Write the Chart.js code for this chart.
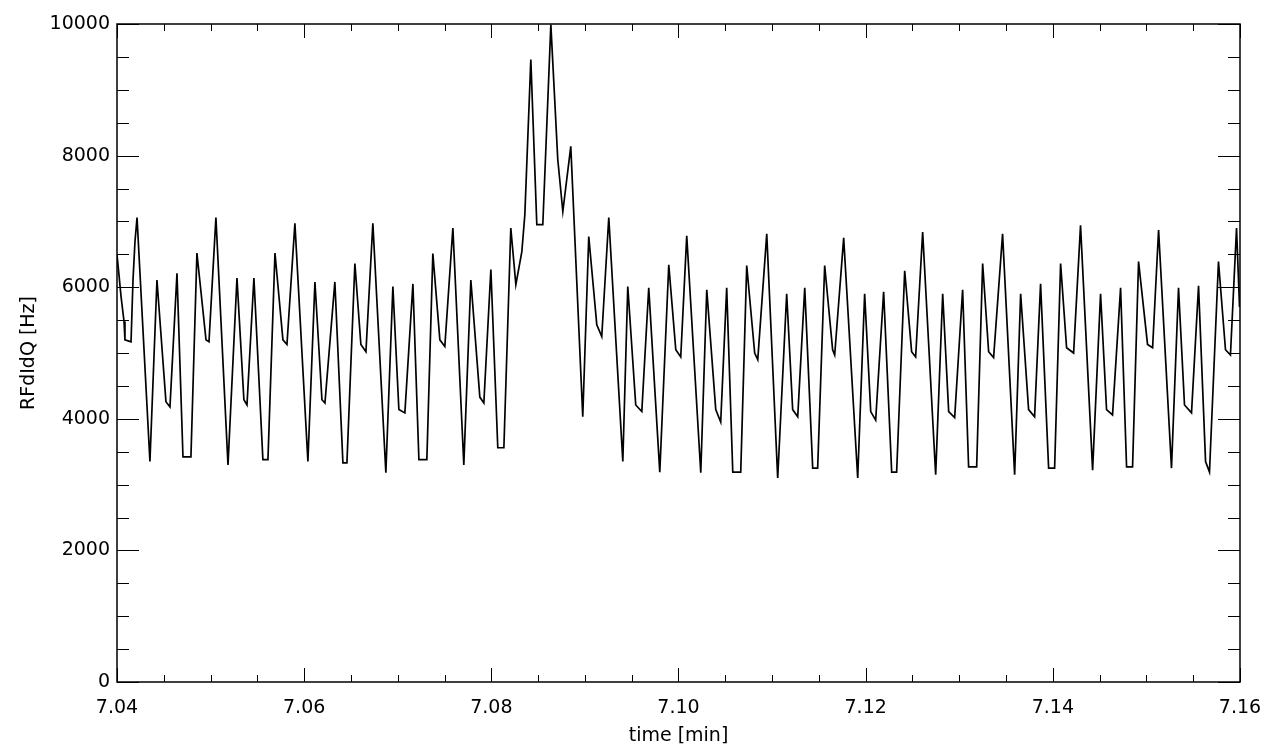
<!DOCTYPE html>
<html>
<head>
<meta charset="utf-8">
<title>RFdIdQ vs time</title>
<script src="https://cdn.jsdelivr.net/npm/chart.js@4.4.1/dist/chart.umd.min.js"></script>
<style>
  html, body { margin: 0; padding: 0; background: #fff; }
  #wrap { width: 1266px; height: 754px; }
</style>
</head>
<body>
<div id="wrap"><canvas id="rfChart" width="1266" height="754"></canvas></div>
<script>
// time [min] of each turning point
const times = [
  7.04000, 7.04021, 7.04043, 7.04075, 7.04085, 7.04150, 7.04171, 7.04192, 7.04214, 7.04352,
  7.04427, 7.04523, 7.04566, 7.04641, 7.04705, 7.04790, 7.04854, 7.04951, 7.04983, 7.05057,
  7.05186, 7.05282, 7.05356, 7.05389, 7.05463, 7.05559, 7.05613, 7.05688, 7.05773, 7.05816,
  7.05901, 7.06040, 7.06115, 7.06190, 7.06222, 7.06328, 7.06414, 7.06457, 7.06542, 7.06606,
  7.06660, 7.06734, 7.06873, 7.06948, 7.07012, 7.07076, 7.07162, 7.07226, 7.07311, 7.07375,
  7.07450, 7.07503, 7.07589, 7.07706, 7.07781, 7.07877, 7.07920, 7.07995, 7.08069, 7.08134,
  7.08208, 7.08262, 7.08326, 7.08358, 7.08422, 7.08486, 7.08550, 7.08636, 7.08710, 7.08764,
  7.08849, 7.08977, 7.09041, 7.09127, 7.09180, 7.09255, 7.09405, 7.09458, 7.09543, 7.09608,
  7.09682, 7.09800, 7.09896, 7.09971, 7.10024, 7.10088, 7.10238, 7.10302, 7.10398, 7.10451,
  7.10515, 7.10580, 7.10665, 7.10729, 7.10814, 7.10847, 7.10943, 7.11060, 7.11156, 7.11220,
  7.11274, 7.11349, 7.11434, 7.11487, 7.11562, 7.11647, 7.11669, 7.11765, 7.11915, 7.11989,
  7.12054, 7.12107, 7.12192, 7.12278, 7.12331, 7.12417, 7.12491, 7.12534, 7.12609, 7.12748,
  7.12823, 7.12887, 7.12951, 7.13036, 7.13100, 7.13186, 7.13250, 7.13314, 7.13367, 7.13463,
  7.13592, 7.13656, 7.13741, 7.13805, 7.13869, 7.13955, 7.14019, 7.14083, 7.14147, 7.14222,
  7.14296, 7.14425, 7.14510, 7.14574, 7.14638, 7.14724, 7.14788, 7.14852, 7.14916, 7.15012,
  7.15066, 7.15130, 7.15268, 7.15343, 7.15407, 7.15482, 7.15557, 7.15632, 7.15674, 7.15770,
  7.15845, 7.15898, 7.15963, 7.15995
];

// RFdIdQ [Hz] at those times
const rfdIdQ = [
  6490, 6190, 5860, 5480, 5200, 5170, 6110, 6690, 7060, 3350,
  6110, 4260, 4180, 6210, 3420, 3420, 6520, 5200, 5170, 7060,
  3300, 6140, 4290, 4210, 6140, 3380, 3380, 6520, 5200, 5130,
  6970, 3350, 6080, 4290, 4240, 6080, 3330, 3330, 6360, 5130,
  5020, 6970, 3180, 6010, 4140, 4090, 6050, 3380, 3380, 6510,
  5200, 5100, 6900, 3300, 6110, 4330, 4240, 6270, 3560, 3560,
  6900, 6040, 6540, 7100, 9460, 6950, 6950, 9990, 7940, 7150,
  8140, 4030, 6770, 5430, 5250, 7060, 3350, 6010, 4210, 4110,
  5990, 3190, 6340, 5050, 4940, 6780, 3180, 5960, 4140, 3950,
  5990, 3190, 3190, 6330, 5000, 4900, 6810, 3100, 5900, 4140,
  4030, 5990, 3250, 3250, 6330, 5050, 4970, 6750, 3100, 5900,
  4110, 3980, 5930, 3190, 3190, 6250, 5020, 4940, 6840, 3150,
  5900, 4110, 4020, 5960, 3270, 3270, 6360, 5020, 4930, 6810,
  3150, 5900, 4140, 4030, 6050, 3250, 3250, 6360, 5080, 5000,
  6940, 3220, 5900, 4140, 4060, 5990, 3270, 3270, 6390, 5130,
  5080, 6870, 3250, 5990, 4210, 4090, 6020, 3350, 3190, 6390,
  5050, 4970, 6900, 5700
];

// axis ticks
const xTicks = [7.04, 7.06, 7.08, 7.10, 7.12, 7.14, 7.16];
const yTicks = [0, 2000, 4000, 6000, 8000, 10000];
const xMinorPerMajor = 4;
const yMinorPerMajor = 4;

const font = { family: 'DejaVu Sans', size: 19 };

// IDL style box with inward ticks on all four sides
const frame = {
  id: 'frame',
  afterDatasetsDraw(chart) {
    const { ctx, chartArea: a, scales } = chart;
    ctx.save();
    ctx.strokeStyle = '#000';
    ctx.lineWidth = 1;
    ctx.beginPath();
    const xs = scales.x, ys = scales.y;
    for (let i = 0; i < xTicks.length; i++) {
      for (let k = 0; k < xMinorPerMajor; k++) {
        if (i === xTicks.length - 1 && k > 0) break;
        const v = i < xTicks.length - 1
          ? xTicks[i] + (xTicks[i + 1] - xTicks[i]) * k / xMinorPerMajor
          : xTicks[i];
        const len = k === 0 ? 14 : 7;
        const px = Math.round(xs.getPixelForValue(v)) + 0.5;
        ctx.moveTo(px, a.bottom); ctx.lineTo(px, a.bottom - len);
        ctx.moveTo(px, a.top); ctx.lineTo(px, a.top + len);
      }
    }
    for (let i = 0; i < yTicks.length; i++) {
      for (let k = 0; k < yMinorPerMajor; k++) {
        if (i === yTicks.length - 1 && k > 0) break;
        const v = i < yTicks.length - 1
          ? yTicks[i] + (yTicks[i + 1] - yTicks[i]) * k / yMinorPerMajor
          : yTicks[i];
        const len = k === 0 ? 22 : 12;
        const py = Math.round(ys.getPixelForValue(v)) + 0.5;
        ctx.moveTo(a.left, py); ctx.lineTo(a.left + len, py);
        ctx.moveTo(a.right, py); ctx.lineTo(a.right - len, py);
      }
    }
    ctx.stroke();
    ctx.lineWidth = 1.5;
    ctx.strokeRect(a.left, a.top, a.right - a.left, a.bottom - a.top);
    ctx.restore();
  }
};

const ctx = document.getElementById('rfChart').getContext('2d');
new Chart(ctx, {
  type: 'line',
  data: {
    datasets: [{
      data: times.map((t, i) => ({ x: t, y: rfdIdQ[i] })),
      borderColor: '#000',
      borderWidth: 1.7,
      pointRadius: 0,
      tension: 0,
      fill: false
    }]
  },
  options: {
    responsive: false,
    animation: false,
    layout: { padding: { top: 24, right: 26, left: 0, bottom: 0 } },
    plugins: {
      legend: { display: false },
      tooltip: { enabled: false }
    },
    scales: {
      x: {
        type: 'linear',
        min: 7.04,
        max: 7.16,
        afterBuildTicks: s => { s.ticks = xTicks.map(v => ({ value: v })); },
        afterFit: s => { s.height = 72; s.paddingLeft = 0; s.paddingRight = 0; },
        grid: { display: false, drawTicks: false },
        border: { display: false },
        ticks: {
          color: '#000',
          font: font,
          padding: 15,
          maxRotation: 0,
          autoSkip: false,
          callback: v => v.toFixed(2)
        },
        title: {
          display: true,
          text: 'time [min]',
          color: '#000',
          font: font,
          padding: { top: 0, bottom: 7 }
        }
      },
      y: {
        min: 0,
        max: 10000,
        afterBuildTicks: s => { s.ticks = yTicks.map(v => ({ value: v })); },
        afterFit: s => { s.width = 117; s.paddingTop = 0; s.paddingBottom = 0; },
        grid: { display: false, drawTicks: false },
        border: { display: false },
        ticks: {
          color: '#000',
          font: font,
          padding: 7,
          autoSkip: false,
          callback: v => String(v)
        },
        title: {
          display: true,
          text: 'RFdIdQ [Hz]',
          color: '#000',
          font: font,
          padding: { top: 18, bottom: 0 }
        }
      }
    }
  },
  plugins: [frame]
});
</script>
</body>
</html>
